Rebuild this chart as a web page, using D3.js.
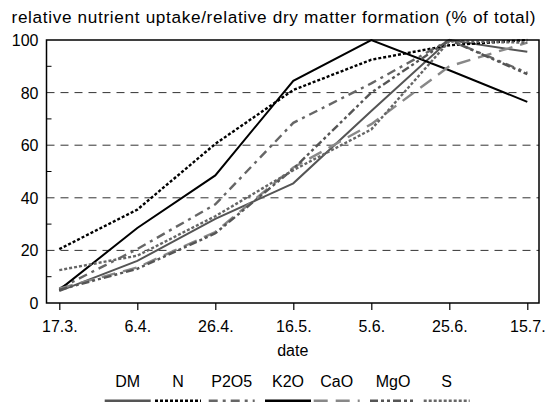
<!DOCTYPE html>
<html>
<head>
<meta charset="UTF-8" />
<style>
  body { margin: 0; background: #fff; }
  svg { display: block; font-family: "Liberation Sans", Arial, sans-serif; }
</style>
</head>
<body>
<svg width="546" height="402"></svg>
<script src="https://cdn.jsdelivr.net/npm/d3@7"></script>
<script>
// sampling dates
const dates = ["17.3.", "6.4.", "26.4.", "16.5.", "5.6.", "25.6.", "15.7."];
const yTicks = [0, 20, 40, 60, 80, 100];
const yMinor = [10, 30, 50, 70, 90];

// % of total per series
const dm   = [4.5, 16, 32, 45.5, 73, 100, 95.5];
const n    = [20.5, 35.5, 60.5, 81, 92.5, 98, 100];
const p2o5 = [5.5, 20.5, 37.5, 68.5, 83.5, 100, 87.5];
const k2o  = [5, 28.5, 48.5, 84.5, 100, 88.5, 76.5];
const cao  = [5.5, 13.5, 27, 51.5, 68, 90, 99];
const mgo  = [5, 13, 26.5, 51, 80, 100, 87];
const s    = [12.5, 18, 33, 50.5, 66, 99.5, 99];

const series = [
  { name: "DM",   values: dm,   color: "#555", dash: null },
  { name: "N",    values: n,    color: "#000", dash: "3,2" },
  { name: "P2O5", values: p2o5, color: "#666", dash: "9,5,3,5" },
  { name: "K2O",  values: k2o,  color: "#000", dash: null },
  { name: "CaO",  values: cao,  color: "#888", dash: "14,8" },
  { name: "MgO",  values: mgo,  color: "#555", dash: "8,3,3,3,3,3" },
  { name: "S",    values: s,    color: "#666", dash: "3,2" }
];

const svg = d3.select("svg");
const pLeft = 46.5, pRight = 539, pTop = 40, pBottom = 303;
const fs = 16;

const x = d3.scalePoint().domain(dates).range([59.3, 527.3]);
const y = d3.scaleLinear().domain([0, 100]).range([pBottom, pTop]);

// title
svg.append("text")
  .attr("x", 11.5).attr("y", 22.5)
  .attr("font-size", 17.2)
  .attr("textLength", 524)
  .attr("lengthAdjust", "spacing")
  .text("relative nutrient uptake/relative dry matter formation (% of total)");

// dashed grid
svg.append("g").selectAll("line")
  .data(yTicks.filter(d => d > 0 && d < 100))
  .join("line")
  .attr("x1", pLeft).attr("x2", pRight)
  .attr("y1", d => y(d)).attr("y2", d => y(d))
  .attr("stroke", "#333").attr("stroke-width", 1)
  .attr("stroke-dasharray", "8,6");

// minor ticks inside the left axis
svg.append("g").selectAll("line")
  .data(yMinor)
  .join("line")
  .attr("x1", pLeft).attr("x2", pLeft + 5)
  .attr("y1", d => y(d)).attr("y2", d => y(d))
  .attr("stroke", "#000");

// y labels
svg.append("g").selectAll("text")
  .data(yTicks)
  .join("text")
  .attr("x", 38.5).attr("y", d => y(d) + 6)
  .attr("text-anchor", "end")
  .attr("font-size", fs)
  .text(d => d);

// x axis ticks + labels
const xAxis = svg.append("g")
  .attr("transform", `translate(0,${pBottom})`)
  .call(d3.axisBottom(x).tickSize(7).tickPadding(11));
xAxis.select(".domain").remove();
xAxis.selectAll("line").attr("stroke", "#000").attr("stroke-width", 1.2);
xAxis.selectAll("text").attr("font-size", fs).attr("font-family", "Liberation Sans, Arial, sans-serif").attr("fill", "#000");

svg.append("text")
  .attr("x", (pLeft + pRight) / 2).attr("y", 356)
  .attr("text-anchor", "middle")
  .attr("font-size", fs)
  .text("date");

// series lines
const line = d3.line()
  .x((d, i) => x(dates[i]))
  .y(d => y(d));

svg.append("g").selectAll("path")
  .data(series)
  .join("path")
  .attr("d", d => line(d.values))
  .attr("fill", "none")
  .attr("stroke", d => d.color)
  .attr("stroke-width", d => d.dash ? 2.4 : 2)
  .attr("stroke-dasharray", d => d.dash);

// plot frame
svg.append("rect")
  .attr("x", pLeft).attr("y", pTop)
  .attr("width", pRight - pLeft).attr("height", pBottom - pTop)
  .attr("fill", "none").attr("stroke", "#000").attr("stroke-width", 1.5);

// legend
const legendPos = [127.7, 178, 231.7, 288, 336.7, 393, 446.7];
const lg = svg.append("g").selectAll("g")
  .data(series)
  .join("g")
  .attr("transform", (d, i) => `translate(${legendPos[i]},0)`);
lg.append("text")
  .attr("y", 387)
  .attr("text-anchor", "middle")
  .attr("font-size", fs)
  .text(d => d.name);
lg.append("line")
  .attr("x1", -23).attr("x2", 23)
  .attr("y1", 402).attr("y2", 402)
  .attr("stroke", d => d.color)
  .attr("stroke-width", 5)
  .attr("stroke-dasharray", d => d.dash);
</script>
</body>
</html>
